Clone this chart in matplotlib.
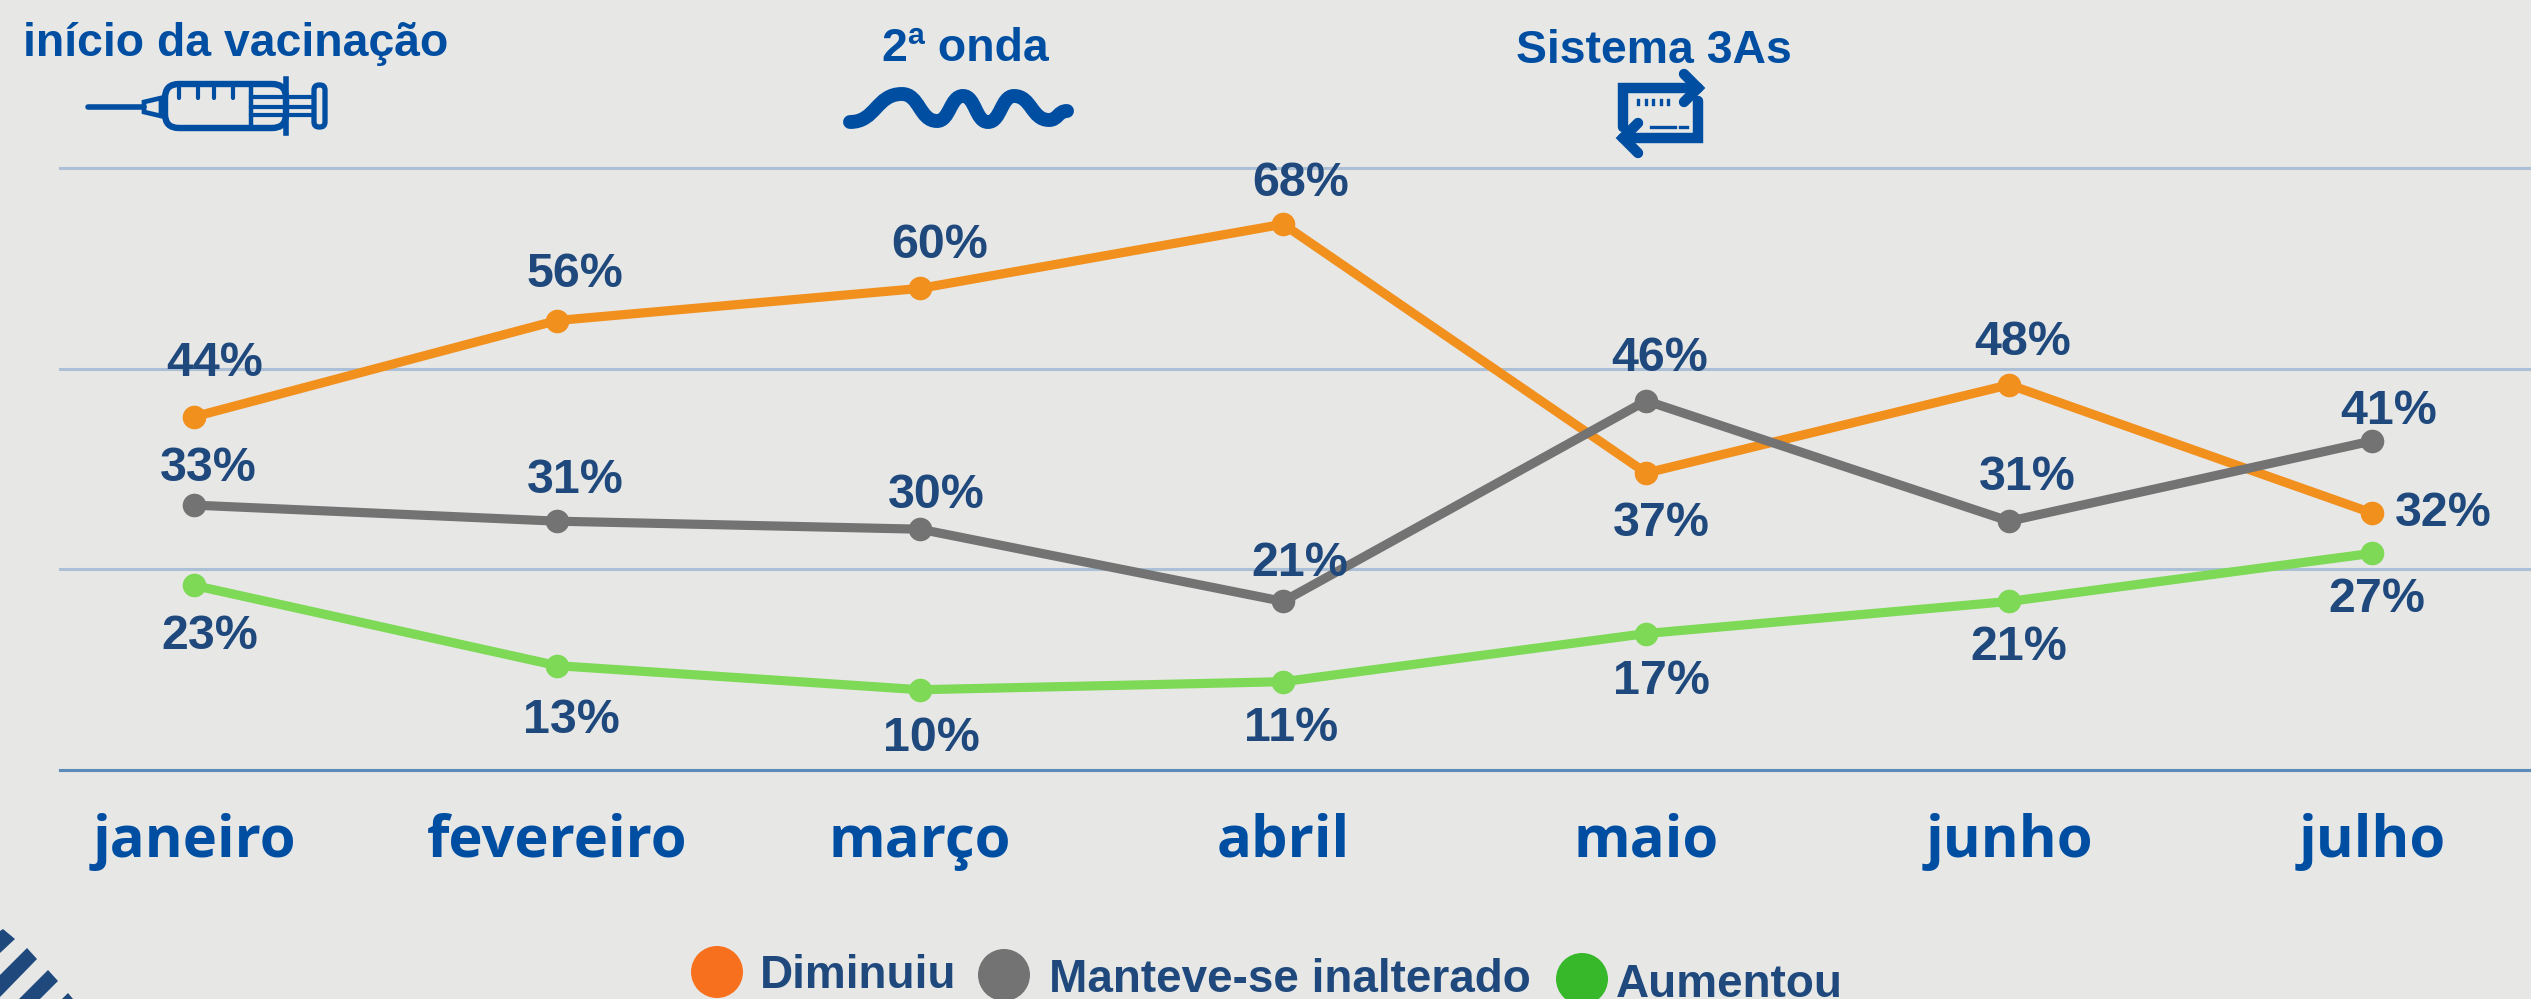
import numpy as np
import matplotlib
matplotlib.use("Agg")
import matplotlib.pyplot as plt
from matplotlib.patches import Circle, Polygon, FancyBboxPatch, PathPatch
from matplotlib.path import Path

W, H = 2531, 999
BG = "#E7E7E5"
NAVY = "#1F497D"
BLUE = "#004EA2"

meses = ["janeiro", "fevereiro", "março", "abril", "maio", "junho", "julho"]
diminuiu = [44, 56, 60, 68, 37, 48, 32]
manteve = [33, 31, 30, 21, 46, 31, 41]
aumentou = [23, 13, 10, 11, 17, 21, 27]

# deslocamento dos rotulos em px do grafico reduzido (dx, dy)
off_diminuiu = [(12.5, 33), (11, 28.6), (12, 26.7), (11, 25), (9.5, -31), (8.5, 26.3), (44, 0)]
off_manteve = [(9, 22.8), (11, 25), (10, 20.7), (10, 23.4), (8.5, 26.3), (11, 27), (10, 18)]
off_aumentou = [(10, -31.5), (9, -34), (7, -30), (5, -29), (9.5, -29.7), (6, -28.6), (3, -28.4)]

plt.rcParams["font.family"] = ["Liberation Sans", "DejaVu Sans"]

fig = plt.figure(figsize=(W / 100, H / 100), dpi=100, facecolor=BG)
ax = fig.add_axes([60 / W, 1 - 770 / H, (W - 60) / W, (770 - 168) / H], facecolor="none")

x = np.arange(len(meses))
series = [
    (diminuiu, off_diminuiu, "#F2901E"),
    (manteve, off_manteve, "#737373"),
    (aumentou, off_aumentou, "#7ED957"),
]
for vals, offs, cor in series:
    ax.plot(x, vals, color=cor, lw=6.6, marker="o", ms=17, mew=0, solid_capstyle="round", clip_on=False, zorder=3)
    for xi, v, (dx, dy) in zip(x, vals, offs):
        ax.annotate(f"{v}%", (xi, v), xytext=(dx * 1.614, dy * 1.614), textcoords="offset pixels",
                    ha="center", va="center", fontsize=34.8, fontweight="bold", color=NAVY, zorder=4)

ax.set_xlim(-134 / 363.05, (W - 194) / 363.05)
ax.set_ylim(0, 75)
ax.set_yticks([0, 25, 50, 75])
ax.grid(axis="y", color="#ABC0D6", lw=2.2, clip_on=False)
ax.set_axisbelow(True)
for s in ["top", "left", "right"]:
    ax.spines[s].set_visible(False)
ax.spines["bottom"].set_color("#5B8BBB")
ax.spines["bottom"].set_linewidth(2.2)
ax.tick_params(axis="y", left=False, labelleft=False)
ax.tick_params(axis="x", bottom=False, pad=59)
ax.set_xticks(x, meses)
for t in ax.get_xticklabels():
    t.set_fontfamily("Open Sans")
    t.set_fontweight("bold")
    t.set_fontsize(41.7)
    t.set_color(BLUE)
    t.set_verticalalignment("baseline")

# camada em pixels para icones, titulos e legenda
ov = fig.add_axes([0, 0, 1, 1], facecolor="none")
ov.set_xlim(0, W)
ov.set_ylim(H, 0)
ov.axis("off")

ov.text(23, 56, "início da vacinação", fontsize=33.4, fontweight="bold", color=BLUE, va="baseline")
ov.text(965, 61, "2ª onda", fontsize=33.4, fontweight="bold", color=BLUE, ha="center", va="baseline")
ov.text(1654, 63, "Sistema 3As", fontsize=33.4, fontweight="bold", color=BLUE, ha="center", va="baseline")

# seringa
ov.plot([88, 144], [107, 107], color=BLUE, lw=4, solid_capstyle="round")
ov.add_patch(Polygon([(144, 102), (161, 98), (161, 116), (144, 112)], fc="none", ec=BLUE, lw=3.4))
ov.add_patch(FancyBboxPatch((165, 84), 121, 44, boxstyle="round,pad=0,rounding_size=14", fc="none", ec=BLUE, lw=4.6))
ov.plot([286, 286], [79, 133], color=BLUE, lw=4)
ov.plot([251, 251], [86, 126], color=BLUE, lw=3.2)
for yr in [97, 107, 115]:
    ov.plot([251, 312], [yr, yr], color=BLUE, lw=3)
for xt in [179, 198, 214, 233]:
    ov.plot([xt, xt], [86, 98], color=BLUE, lw=3, solid_capstyle="round")
ov.add_patch(FancyBboxPatch((314, 85), 11, 42, boxstyle="round,pad=0,rounding_size=5", fc="none", ec=BLUE, lw=3.8))

# onda
onda = [(850, 122), (902, 94), (937, 121), (963, 96), (988, 122), (1014, 96), (1049, 120), (1067, 111)]
verts = [onda[0]]
codes = [Path.MOVETO]
for (x0, y0), (x1, y1) in zip(onda[:-1], onda[1:]):
    xm = (x0 + x1) / 2
    verts += [(xm, y0), (xm, y1), (x1, y1)]
    codes += [Path.CURVE4] * 3
ov.add_patch(PathPatch(Path(verts, codes), fc="none", ec=BLUE, lw=10, capstyle="round"))

# setas do sistema 3As
ov.plot([1623, 1623, 1698], [127, 88, 88], color=BLUE, lw=7.5, solid_capstyle="round", solid_joinstyle="miter")
ov.plot([1684, 1698, 1684], [74, 88, 102], color=BLUE, lw=7.5, solid_capstyle="round", solid_joinstyle="miter")
ov.plot([1698, 1698, 1623], [101, 138, 138], color=BLUE, lw=7.5, solid_capstyle="round", solid_joinstyle="miter")
ov.plot([1638, 1623, 1638], [123, 138, 153], color=BLUE, lw=7.5, solid_capstyle="round", solid_joinstyle="miter")
for xd in [1638, 1646, 1653, 1661, 1668]:
    ov.plot([xd, xd], [100, 104], color=BLUE, lw=2.4)
ov.plot([1651, 1675], [127, 127], color=BLUE, lw=2.4)
ov.plot([1680, 1687], [127, 127], color=BLUE, lw=2.4)

# legenda
ov.add_patch(Circle((717, 972), 26, fc="#F7701E", ec="none"))
ov.add_patch(Circle((1004, 975), 26, fc="#737373", ec="none"))
ov.add_patch(Circle((1582, 979), 26, fc="#37B82A", ec="none"))
ov.text(760, 988, "Diminuiu", fontsize=33, fontweight="bold", color=NAVY, va="baseline")
ov.text(1049, 992, "Manteve-se inalterado", fontsize=33, fontweight="bold", color=NAVY, va="baseline")
ov.text(1616, 997, "Aumentou", fontsize=33, fontweight="bold", color=NAVY, va="baseline")

# listras no canto
for pts in [
    [(0, 931), (3, 929), (15, 939), (0, 953)],
    [(27, 948), (37, 959), (2, 995), (0, 997), (0, 975)],
    [(48, 970), (58, 981), (40, 999), (19, 999)],
    [(68, 993), (73, 999), (62, 999)],
]:
    ov.add_patch(Polygon(pts, fc=NAVY, ec="none"))

fig.savefig("out.png", dpi=100, facecolor=BG)
